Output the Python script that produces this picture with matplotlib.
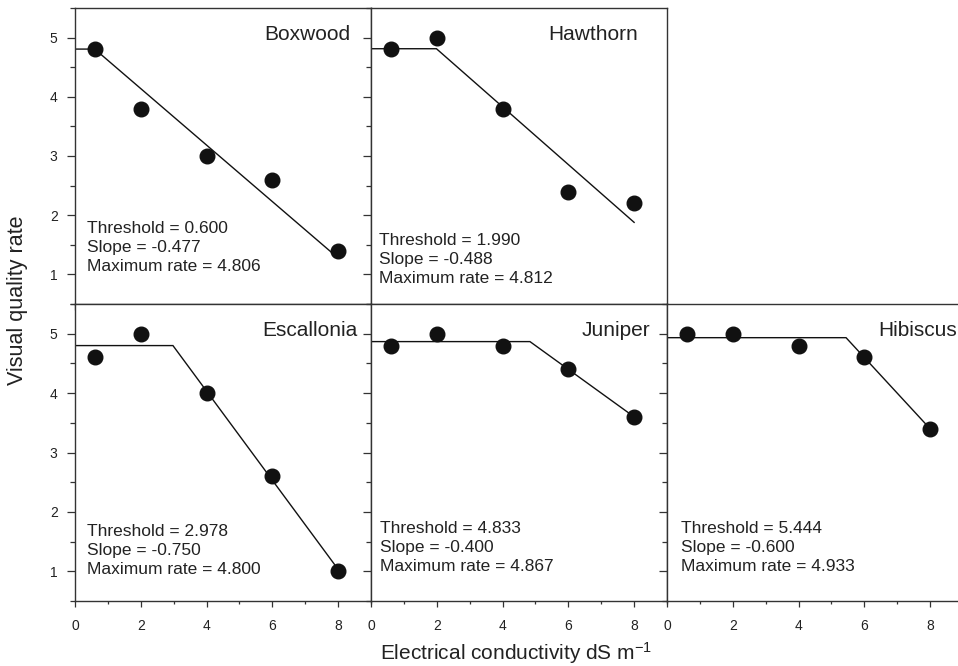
import matplotlib
matplotlib.use("Agg")
import matplotlib.pyplot as plt
import numpy as np
from matplotlib.ticker import MultipleLocator

plt.rcParams['font.family'] = ['Liberation Sans', 'DejaVu Sans']
plt.rcParams['mathtext.fontset'] = 'custom'
plt.rcParams['mathtext.rm'] = 'Liberation Sans'
plt.rcParams['mathtext.it'] = 'Liberation Sans'

# ---- data ----
species = ["Boxwood", "Hawthorn", "Escallonia", "Juniper", "Hibiscus"]
ec = [0.6, 2, 4, 6, 8]
boxwood = [4.8, 3.8, 3.0, 2.6, 1.4]
hawthorn = [4.8, 5.0, 3.8, 2.4, 2.2]
escallonia = [4.6, 5.0, 4.0, 2.6, 1.0]
juniper = [4.8, 5.0, 4.8, 4.4, 3.6]
hibiscus = [5.0, 5.0, 4.8, 4.6, 3.4]
thresholds = [0.600, 1.990, 2.978, 4.833, 5.444]
slopes = [-0.477, -0.488, -0.750, -0.400, -0.600]
max_rates = [4.806, 4.812, 4.800, 4.867, 4.933]
series = [boxwood, hawthorn, escallonia, juniper, hibiscus]

W, H = 958, 666
fig = plt.figure(figsize=(W / 100, H / 100), dpi=100)

def px_axes(x0, x1, ytop, ybot):
    return fig.add_axes([x0 / W, 1 - ybot / H, (x1 - x0) / W, (ybot - ytop) / H])

cols = [(75, 371), (371, 667), (667, 963)]
rows = [(8, 304), (304, 601)]
slots = [(0, 0), (0, 1), (1, 0), (1, 1), (1, 2)]

# title positions (x right edge, y baseline) and annotation positions (first-line baseline)
title_pos = [(8.36, 4.96), (8.12, 4.96), (8.6, 4.96), (8.48, 4.96), (8.81, 4.96)]
ann_pos = [(0.365, 1.70), (0.243, 1.50), (0.365, 1.594), (0.27, 1.645), (0.43, 1.645)]

spine_c = "#333333"
txt_c = "#222222"
for i, (r, c) in enumerate(slots):
    ax = px_axes(cols[c][0], cols[c][1], rows[r][0], rows[r][1])
    ax.set_xlim(0, 9)
    ax.set_ylim(0.5, 5.5)
    ax.xaxis.set_major_locator(MultipleLocator(2))
    ax.xaxis.set_minor_locator(MultipleLocator(1))
    ax.yaxis.set_major_locator(MultipleLocator(1))
    ax.yaxis.set_minor_locator(MultipleLocator(0.5))
    ax.tick_params(which='major', direction='out', width=0.9, color=spine_c,
                   labelsize=10, labelcolor=txt_c)
    ax.tick_params(axis='x', which='major', length=4, pad=9)
    ax.tick_params(axis='y', which='major', length=5.5, pad=7)
    ax.tick_params(axis='x', which='minor', direction='out', length=2.5, width=0.9, color=spine_c)
    ax.tick_params(axis='y', which='minor', direction='out', length=3.3, width=0.9, color=spine_c)
    for s in ax.spines.values():
        s.set_color(spine_c)
        s.set_linewidth(1.0)
    if r == 0:
        ax.tick_params(axis='x', labelbottom=False)
    else:
        ax.set_xticks([0, 2, 4, 6, 8])
    if c != 0:
        ax.tick_params(axis='y', labelleft=False)
    else:
        ax.set_yticks([1, 2, 3, 4, 5])
    if c == 2:
        ax.spines['right'].set_visible(False)

    t, s, m = thresholds[i], slopes[i], max_rates[i]
    xl = np.array([0, t, 8])
    yl = np.where(xl <= t, m, m + s * (xl - t))
    ax.plot(xl, yl, color='#111111', lw=1.0, solid_joinstyle='miter', zorder=2)
    ax.plot(ec, series[i], 'o', color='#111111', ms=10.5, zorder=3, clip_on=False)

    tx, ty = title_pos[i]
    ax.text(tx, ty, species[i], ha='right', va='baseline', fontsize=15, color=txt_c)
    axx, axy = ann_pos[i]
    lines = [f"Threshold = {t:.3f}", f"Slope = {s:.3f}", f"Maximum rate = {m:.3f}"]
    for k, line in enumerate(lines):
        ax.annotate(line, (axx, axy), xytext=(0, -19 * k), textcoords='offset pixels',
                    ha='left', va='baseline', fontsize=12.5, color=txt_c)

fig.text(18 / W, 1 - 300 / H, "Visual quality rate", rotation=90, ha='center', va='center',
         fontsize=15.5, color=txt_c)
fig.text(516 / W, 1 - 660 / H, "Electrical conductivity dS m$^{\\mathrm{-1}}$", ha='center',
         va='baseline', fontsize=15, color=txt_c)

fig.savefig("out.png", dpi=100)
